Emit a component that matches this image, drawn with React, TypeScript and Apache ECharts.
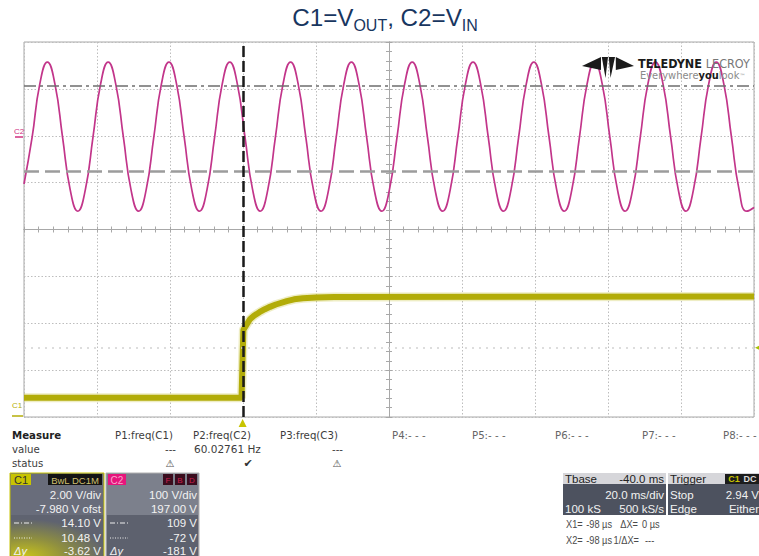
import React, { useEffect, useRef } from "react";
import * as echarts from "echarts";

// ---- scope settings (from the on-screen readouts) ----
const timePerDivMs = 20; // 20.0 ms/div
const timeCenterMs = 40; // Tbase -40.0 ms -> trigger 2 div left of centre
const c1VoltsPerDiv = 2.0;
const c1CenterV = 7.98; // -7.980 V ofst
const c2VoltsPerDiv = 100;
const c2CenterV = -197; // 197.00 V offset

// ---- C2 = V_IN (60 Hz sine) ----
const c2TimeMs = [-60, -57.77, -55.68, -53.6, -51.52, -49.44, -47.35, -45.27, -43.19,
  -41.1, -39.02, -36.94, -34.86, -32.77, -30.69, -28.6, -26.52,
  -24.44, -22.36, -20.28, -18.2, -16.11, -14.03, -11.94, -9.86,
  -7.78, -5.7, -3.62, -1.54, 0.55, 2.63, 4.72, 6.8,
  8.88, 10.96, 13.04, 15.12, 17.21, 19.29, 21.38, 23.46,
  25.54, 27.62, 29.7, 31.78, 33.87, 35.95, 38.04, 40.12,
  42.2, 44.28, 46.36, 48.44, 50.53, 52.61, 54.7, 56.78,
  58.86, 60.94, 63.02, 65.1, 67.19, 69.27, 71.36, 73.44,
  75.52, 77.6, 79.68, 81.76, 83.85, 85.93, 88.02, 90.1,
  92.18, 94.26, 96.34, 98.42, 100.51, 102.59, 104.68, 106.76,
  108.84, 110.92, 113.0, 115.08, 117.17, 119.25, 121.34, 123.42,
  125.5, 127.58, 129.66, 131.74, 133.83, 135.91, 138.0, 140];
const c2Volts = [-100, 0, 113, 160, 113, 0, -112, -158, -112,
  0, 113, 160, 113, 0, -112, -158, -112,
  0, 113, 160, 113, 0, -112, -158, -112,
  0, 113, 160, 113, 0, -112, -158, -112,
  0, 113, 160, 113, 0, -112, -158, -112,
  0, 113, 160, 113, 0, -112, -158, -112,
  0, 113, 160, 113, 0, -112, -158, -112,
  0, 113, 160, 113, 0, -112, -158, -112,
  0, 113, 160, 113, 0, -112, -158, -112,
  0, 113, 160, 113, 0, -112, -158, -112,
  0, 113, 160, 113, 0, -112, -158, -112,
  0, 113, 160, 113, 0, -112, -158, -150];

// ---- C1 = V_OUT (step response) ----
const c1TimeMs = [-60, -0.4, 0.1, 1.9, 3, 4.5, 6, 7.4, 9, 12, 14, 16.4, 20, 25, 140];
const c1Volts = [0.8, 0.8, 3.7, 4.15, 4.3, 4.45, 4.58, 4.68, 4.78, 4.92, 5.0, 5.05, 5.08, 5.1, 5.12];

// ---- cursors / trigger ----
const c1Cursors = [14.1, 10.48];
const triggerLevelV = 2.94;
const cursorTimeMs = -0.098;

const tx = (t: number) => (t - timeCenterMs) / timePerDivMs;
const c1y = (v: number) => (v - c1CenterV) / c1VoltsPerDiv;
const c2y = (v: number) => (v - c2CenterV) / c2VoltsPerDiv;

const FONT = "Liberation Sans";
const WIDE = "DejaVu Sans";

function txt(x: number, y: number, text: string, o: any = {}, scaleX = 1) {
  return {
    type: "text",
    x,
    y,
    scaleX,
    z: 100,
    silent: true,
    style: {
      text,
      fontSize: 11,
      fontFamily: FONT,
      fill: "#3a3a3a",
      align: "left",
      verticalAlign: "middle",
      ...o,
    },
  };
}
function rect(x: number, y: number, w: number, h: number, style: any) {
  return { type: "rect", z: 90, silent: true, shape: { x, y, width: w, height: h }, style };
}
function hline(x1: number, x2: number, y: number, dash: number[], stroke = "#eee") {
  return {
    type: "line",
    z: 100,
    silent: true,
    shape: { x1, y1: y, x2, y2: y },
    style: { stroke, lineWidth: 1, lineDash: dash },
  };
}
const mt = (x: number, y: number, text: string, o: any = {}) =>
  txt(x, y, text, { fontFamily: WIDE, fontSize: 10.2, fill: "#3c3c3c", ...o });
const ro = (x: number, y: number, text: string, o: any = {}) =>
  txt(x, y, text, { fontSize: 11, fill: "#4a4a4a", ...o }, 0.84);

export default function App() {
  const ref = useRef<HTMLDivElement>(null);
  useEffect(() => {
    if (!ref.current) return;
    const chart = echarts.init(ref.current, null, { renderer: "svg" });

    const c2Data = c2TimeMs.map((t, i) => [tx(t), c2y(c2Volts[i])]);
    const c1Data = c1TimeMs.map((t, i) => [tx(t), c1y(c1Volts[i])]);

    const centerAxisX = (pos: string) => ({
      type: "value",
      min: -5,
      max: 5,
      interval: 1,
      position: pos,
      axisLine: { show: true, onZero: true, lineStyle: { color: "#a8a8a8", width: 1 } },
      axisTick: { show: true, length: 3, lineStyle: { color: "#a8a8a8" } },
      minorTick: { show: true, splitNumber: 5, length: 3, lineStyle: { color: "#a8a8a8" } },
      axisLabel: { show: false },
      splitLine: pos === "bottom"
        ? { show: true, lineStyle: { color: "#bdbdbd", type: [1.5, 2], width: 1 } }
        : { show: false },
      minorSplitLine: { show: false },
    });
    const centerAxisY = (pos: string) => ({
      type: "value",
      min: -4,
      max: 4,
      interval: 1,
      position: pos,
      axisLine: { show: true, onZero: true, lineStyle: { color: "#a8a8a8", width: 1 } },
      axisTick: { show: true, length: 3, lineStyle: { color: "#a8a8a8" } },
      minorTick: { show: true, splitNumber: 5, length: 3, lineStyle: { color: "#a8a8a8" } },
      axisLabel: { show: false },
      splitLine: pos === "left"
        ? { show: true, lineStyle: { color: "#bdbdbd", type: [1.5, 2], width: 1 } }
        : { show: false },
    });

    const white = "#f2f2f2";
    const graphic: any[] = [
      // title
      {
        type: "text",
        x: 385,
        y: 1,
        z: 100,
        style: {
          text: "{a|C1=V}{s|OUT}{a|, C2=V}{s|IN}",
          align: "center",
          verticalAlign: "top",
          rich: {
            a: { fontSize: 24.2, lineHeight: 32, fontFamily: FONT, fill: "#18365f" },
            s: { fontSize: 16, lineHeight: 15, fontFamily: FONT, fill: "#18365f", verticalAlign: "bottom" },
          },
        },
      },
      // logo
      { type: "polygon", z: 100, shape: { points: [[582, 66], [601, 57], [601, 70]] }, style: { fill: "#1a1a1a" } },
      { type: "polygon", z: 100, shape: { points: [[601.8, 57], [608, 57], [605.5, 78]] }, style: { fill: "#1a1a1a" } },
      { type: "polygon", z: 100, shape: { points: [[608.8, 57], [615, 57], [610.5, 78]] }, style: { fill: "#1a1a1a" } },
      { type: "polygon", z: 100, shape: { points: [[615.8, 57], [634, 66], [615.8, 70]] }, style: { fill: "#1a1a1a" } },
      {
        type: "text",
        x: 638,
        y: 63,
        z: 100,
        style: {
          text: "{b|TELEDYNE }{g|LECROY}",
          verticalAlign: "middle",
          rich: {
            b: { fontSize: 12.5, lineHeight: 11, fontWeight: "bold", fontFamily: "DejaVu Sans Condensed", fill: "#1a1a1a" },
            g: { fontSize: 12.5, lineHeight: 11, fontFamily: "DejaVu Sans Condensed", fill: "#777" },
          },
        },
      },
      {
        type: "text",
        x: 640,
        y: 75.5,
        z: 100,
        style: {
          text: "{g|Everywhere}{b|you}{g|look}{t|™}",
          verticalAlign: "middle",
          rich: {
            g: { fontSize: 11, lineHeight: 10, fontFamily: "DejaVu Sans Condensed", fill: "#8a8a8a" },
            b: { fontSize: 11, lineHeight: 10, fontWeight: "bold", fontFamily: "DejaVu Sans Condensed", fill: "#1a1a1a" },
            t: { fontSize: 6, lineHeight: 10, fontFamily: "DejaVu Sans", fill: "#8a8a8a" },
          },
        },
      },
      // channel markers
      txt(14, 131, "C2", { fontSize: 8, fill: "#d0307f" }),
      { type: "line", z: 100, shape: { x1: 15, y1: 137, x2: 23, y2: 137 }, style: { stroke: "#d0307f", lineWidth: 1.5 } },
      txt(12, 405, "C1", { fontSize: 8, fill: "#b4ae08" }),
      { type: "line", z: 100, shape: { x1: 12, y1: 416, x2: 23, y2: 416 }, style: { stroke: "#b4ae08", lineWidth: 1.5 } },

      // measure table
      mt(12, 435, "Measure", { fontWeight: "bold", fill: "#222" }),
      mt(12, 449, "value"),
      mt(12, 463, "status"),
      mt(115, 435, "P1:freq(C1)"),
      mt(193, 435, "P2:freq(C2)"),
      mt(280, 435, "P3:freq(C3)"),
      mt(392, 435, "P4:- - -", { fill: "#666" }),
      mt(472, 435, "P5:- - -", { fill: "#666" }),
      mt(555, 435, "P6:- - -", { fill: "#666" }),
      mt(642, 435, "P7:- - -", { fill: "#666" }),
      mt(723, 435, "P8:- - -", { fill: "#666" }),
      mt(176, 449, "---", { align: "right" }),
      mt(194, 449, "60.02761 Hz", { fontSize: 10.5 }),
      mt(343, 449, "---", { align: "right" }),
      txt(170, 463, "⚠", { align: "center", fontFamily: WIDE, fontSize: 10, fill: "#555" }),
      txt(248, 463, "✔", { align: "center", fontFamily: WIDE, fontSize: 11, fill: "#333" }),
      txt(337, 463, "⚠", { align: "center", fontFamily: WIDE, fontSize: 10, fill: "#555" }),

      // C1 panel
      rect(10, 473, 94, 84, { fill: "#696d7b", stroke: "#c8c400", lineWidth: 1 }),
      rect(11, 515, 92, 42, {
        fill: {
          type: "radial", x: 0.15, y: 1, r: 0.9,
          colorStops: [
            { offset: 0, color: "#c9c41a" },
            { offset: 0.5, color: "#8f8f40" },
            { offset: 1, color: "#5f6370" },
          ],
        },
      }),
      rect(11, 474, 20, 11, { fill: "#c8c400" }),
      txt(21, 480, "C1", { align: "center", fill: "#333", fontSize: 11 }),
      rect(48, 474, 54, 11, { fill: "#141414" }),
      txt(75, 480, "BwL DC1M", { align: "center", fill: "#cfc070", fontSize: 9.5 }),
      txt(101, 495, "2.00 V/div", { align: "right", fill: white, fontSize: 11.5 }),
      txt(101, 509, "-7.980 V ofst", { align: "right", fill: white, fontSize: 11.5 }),
      txt(101, 523, "14.10 V", { align: "right", fill: white, fontSize: 11.5 }),
      txt(101, 538, "10.48 V", { align: "right", fill: white, fontSize: 11.5 }),
      txt(101, 551, "-3.62 V", { align: "right", fill: white, fontSize: 11.5 }),
      hline(14, 32, 523, [5, 2, 1, 2]),
      hline(14, 32, 538, [1, 1.5]),
      txt(14, 551, "Δy", { fill: white, fontStyle: "italic", fontSize: 11 }),

      // C2 panel
      rect(106, 473, 93, 84, { fill: "#7c808c", stroke: "#b0b0b0", lineWidth: 1 }),
      rect(107, 515, 91, 42, { fill: "#5d616e" }),
      rect(108, 474, 18, 11, { fill: "#e6157c" }),
      txt(117, 480, "C2", { align: "center", fill: "#f6a6cb", fontSize: 10 }),
      rect(163, 474, 10, 11, { fill: "#3b0d1e" }),
      rect(175, 474, 10, 11, { fill: "#3b0d1e" }),
      rect(187, 474, 10, 11, { fill: "#3b0d1e" }),
      txt(168, 480, "F", { align: "center", fill: "#c8204e", fontSize: 8 }),
      txt(180, 480, "B", { align: "center", fill: "#c8204e", fontSize: 8 }),
      txt(192, 480, "D", { align: "center", fill: "#c8204e", fontSize: 8 }),
      txt(197, 495, "100 V/div", { align: "right", fill: white, fontSize: 11.5 }),
      txt(197, 509, "197.00 V", { align: "right", fill: white, fontSize: 11.5 }),
      txt(197, 523, "109 V", { align: "right", fill: white, fontSize: 11.5 }),
      txt(197, 538, "-72 V", { align: "right", fill: white, fontSize: 11.5 }),
      txt(197, 551, "-181 V", { align: "right", fill: white, fontSize: 11.5 }),
      hline(110, 128, 523, [5, 2, 1, 2]),
      hline(110, 128, 538, [1, 1.5]),
      txt(110, 551, "Δy", { fill: white, fontStyle: "italic", fontSize: 11 }),

      // Tbase panel
      rect(563, 473, 103, 11, { fill: "#d6d6da" }),
      rect(563, 484, 103, 31, { fill: "#4d525f" }),
      txt(565, 479, "Tbase", { fill: "#222", fontSize: 11.5 }),
      txt(664, 479, "-40.0 ms", { align: "right", fill: "#222", fontSize: 11.5 }),
      txt(664, 495, "20.0 ms/div", { align: "right", fill: white, fontSize: 11.5 }),
      txt(565, 509, "100 kS", { fill: white, fontSize: 11.5 }),
      txt(664, 509, "500 kS/s", { align: "right", fill: white, fontSize: 11.5 }),
      // Trigger panel
      rect(668, 473, 91, 11, { fill: "#d6d6da" }),
      rect(668, 484, 91, 31, { fill: "#4d525f" }),
      txt(670, 479, "Trigger", { fill: "#222", fontSize: 11.5 }),
      rect(725, 474, 34, 10, { fill: "#1c1c1c" }),
      txt(734, 479, "C1", { align: "center", fill: "#c8c400", fontSize: 9, fontWeight: "bold" }),
      txt(750, 479, "DC", { align: "center", fill: "#dddddd", fontSize: 9, fontWeight: "bold" }),
      txt(670, 495, "Stop", { fill: white, fontSize: 11.5 }),
      txt(759, 495, "2.94 V", { align: "right", fill: white, fontSize: 11.5 }),
      txt(670, 509, "Edge", { fill: white, fontSize: 11.5 }),
      txt(759, 509, "Either", { align: "right", fill: white, fontSize: 11.5 }),
      // cursor readouts
      ro(566, 524, "X1="),
      ro(612, 524, "-98 µs", { align: "right" }),
      ro(638, 524, "ΔX=", { align: "right" }),
      ro(642, 524, "0 µs"),
      ro(566, 540, "X2="),
      ro(612, 540, "-98 µs", { align: "right" }),
      ro(639, 540, "1/ΔX=", { align: "right" }),
      ro(645, 540, "---"),
    ];

    const option: any = {
      animation: false,
      backgroundColor: "#ffffff",
      grid: {
        left: 24,
        top: 42,
        width: 730,
        height: 375,
        show: true,
        borderColor: "#a8a8a8",
        borderWidth: 1,
        backgroundColor: "transparent",
      },
      xAxis: [centerAxisX("bottom"), centerAxisX("top")],
      yAxis: [centerAxisY("left"), centerAxisY("right")],
      series: [
        {
          name: "C2",
          type: "line",
          data: c2Data,
          smooth: 0.5,
          showSymbol: false,
          lineStyle: { color: "#c2358a", width: 1.7 },
          z: 3,
        },
        {
          name: "C1 halo",
          type: "line",
          data: c1Data,
          showSymbol: false,
          lineStyle: { color: "#c8c23a", width: 9, opacity: 0.3 },
          z: 2,
        },
        {
          name: "C1",
          type: "line",
          data: c1Data,
          showSymbol: false,
          lineStyle: { color: "#b2ac08", width: 6 },
          z: 3,
          markLine: {
            silent: true,
            symbol: ["none", "none"],
            label: { show: false },
            data: [
              { yAxis: c1y(c1Cursors[0]), lineStyle: { color: "#6e6e6e", width: 1.5, type: [12, 4, 3, 4] } },
              { yAxis: c1y(c1Cursors[1]), lineStyle: { color: "#9c9c9c", width: 2.5, type: [15, 6] } },
              { yAxis: c1y(triggerLevelV), lineStyle: { color: "#d2d2d2", width: 1.5, type: [2, 5] } },
              { xAxis: tx(cursorTimeMs), lineStyle: { color: "#1a1a1a", width: 2.5, type: [11, 4] } },
            ],
          },
          markPoint: {
            silent: true,
            label: { show: false },
            data: [
              {
                coord: [tx(cursorTimeMs), -4],
                symbol: "triangle",
                symbolSize: [8, 8],
                symbolOffset: [0, 6],
                itemStyle: { color: "#c8c400" },
              },
              {
                coord: [5, c1y(triggerLevelV)],
                symbol: "triangle",
                symbolSize: [6, 6],
                symbolRotate: 90,
                symbolOffset: [4, 0],
                itemStyle: { color: "#a8c000" },
              },
            ],
          },
        },
      ],
      graphic,
    };
    chart.setOption(option);
    return () => chart.dispose();
  }, []);
  return (
    <div
      ref={ref}
      style={{ position: "fixed", left: 0, top: 0, width: 759, height: 556, background: "#fff" }}
    />
  );
}
